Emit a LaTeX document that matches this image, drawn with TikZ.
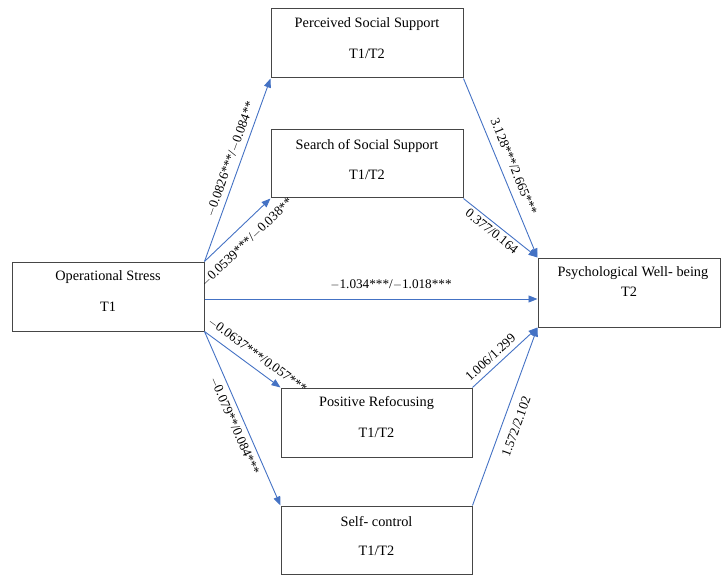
\documentclass[tikz,border=0pt]{standalone}
\usepackage{fontspec}
\setmainfont{Liberation Serif}
\usetikzlibrary{arrows.meta}
\definecolor{arrowblue}{RGB}{68,114,196}
\definecolor{boxgray}{RGB}{70,70,70}
\tikzset{
  box/.style={draw=boxgray, line width=1pt, fill=white, inner sep=0pt},
  boxtxt/.style={inner sep=0pt, font=\fontsize{14.3}{16}\selectfont},
  path/.style={draw=arrowblue, line width=0.9pt, -{Triangle[length=9pt,width=7pt]}},
  lab/.style={font=\fontsize{13.2}{14}\selectfont, sloped, inner sep=1pt}
}
\begin{document}
\begin{tikzpicture}[x=1pt,y=-1pt]
\useasboundingbox (0,0) rectangle (721,575);
% boxes
\node[box, minimum width=192pt, minimum height=69pt] (op) at (108,296.5) {};
\node[box, minimum width=192pt, minimum height=69pt] (ps) at (367,43.5) {};
\node[box, minimum width=192pt, minimum height=68pt] (ss) at (367,164) {};
\node[box, minimum width=182pt, minimum height=69pt] (pw) at (629,292.5) {};
\node[box, minimum width=191pt, minimum height=69pt] (pr) at (376.5,422.5) {};
\node[box, minimum width=191pt, minimum height=68pt] (sc) at (376.5,540) {};
% texts
\node[boxtxt] (opA) at ([yshift=-16pt]op.north) {Operational Stress};
\node[boxtxt] (opB) at ([yshift=-45pt]op.north) {T1};
\node[boxtxt] (psA) at ([yshift=-16pt]ps.north) {Perceived Social Support};
\node[boxtxt] (psB) at ([yshift=-45pt]ps.north) {T1/T2};
\node[boxtxt] (ssA) at ([yshift=-16pt]ss.north) {Search of Social Support};
\node[boxtxt] (ssB) at ([yshift=-45pt]ss.north) {T1/T2};
\node[boxtxt] (pwA) at ([yshift=-16pt,xshift=4pt]pw.north) {Psychological Well- being};
\node[boxtxt] (pwB) at ([yshift=-34pt]pw.north) {T2};
\node[boxtxt] (prA) at ([yshift=-16pt]pr.north) {Positive Refocusing};
\node[boxtxt] (prB) at ([yshift=-45pt]pr.north) {T1/T2};
\node[boxtxt] (scA) at ([yshift=-16pt]sc.north) {Self- control};
\node[boxtxt] (scB) at ([yshift=-45pt]sc.north) {T1/T2};
% connectors
\path[path] (op.north east) -- node[lab, pos=0.54, above=4pt] {$-$0.0826***/$-$0.084**} (ps.south west);
\path[path] (op.north east) -- node[lab, pos=0.48, below=9pt] {$-$0.0539***/$-$0.038**} (ss.south west);
\path[path] ([yshift=-2.5pt]op.east) -- node[lab, pos=0.56, above=8pt] {$-$1.034***/$-$1.018***} ([yshift=-2.5pt]op.east -| pw.west);
\path[path] (op.south east) -- node[lab, pos=0.6, above=6pt] {$-$0.0637***/0.057***} (pr.north west);
\path[path] (op.south east) -- node[lab, pos=0.52, below=4pt] {$-$0.079**/0.084***} (sc.north west);
\path[path] (ps.south east) -- node[lab, pos=0.52, above=7pt] {3.128***/2.665***} (pw.north west);
\path[path] (ss.south east) -- node[lab, pos=0.45, below=2pt] {0.377/0.164} (pw.north west);
\path[path] (pr.north east) -- node[lab, pos=0.38, above=4pt] {1.006/1.299} (pw.south west);
\path[path] (sc.north east) -- node[lab, pos=0.47, below=8pt] {1.572/2.102} (pw.south west);
\end{tikzpicture}
\end{document}
